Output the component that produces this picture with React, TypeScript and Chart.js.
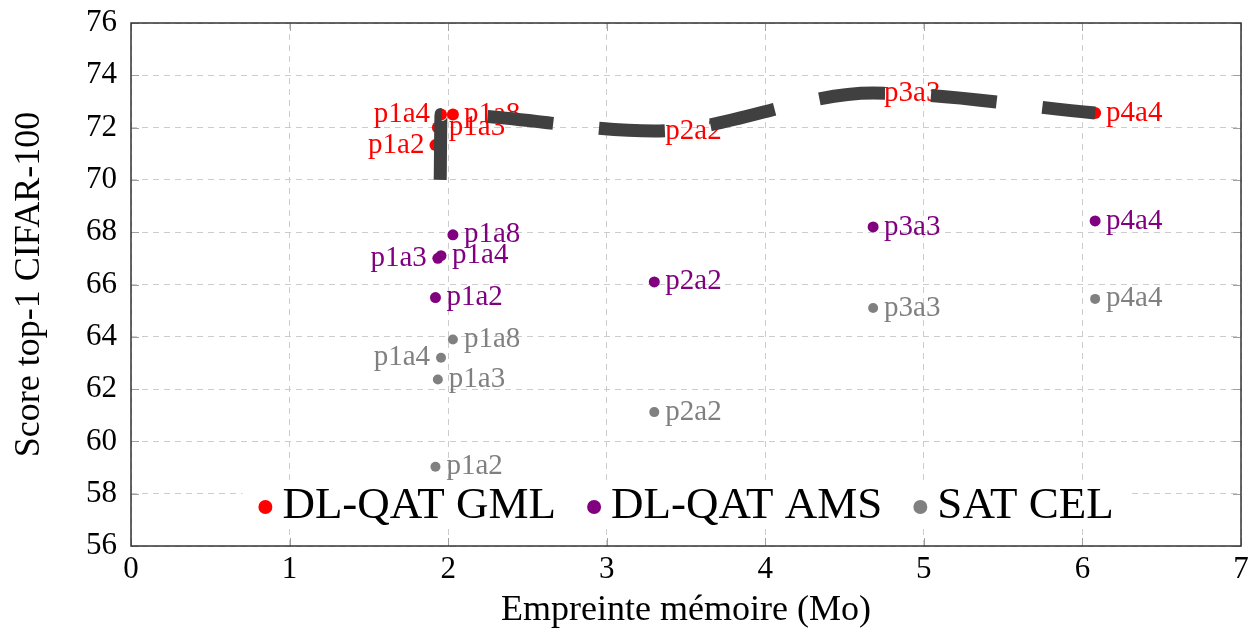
import { useEffect, useRef } from "react";
import { Chart, registerables } from "chart.js";

Chart.register(...registerables);

// Model configurations (bit width of parameters / activations)
const configs = ["p1a2", "p1a3", "p1a4", "p1a8", "p2a2", "p3a3", "p4a4"];
// Memory footprint in Mo for each configuration
const memoryMo = [1.92, 1.935, 1.955, 2.03, 3.3, 4.68, 6.08];
// Top-1 accuracy on CIFAR-100 for each method
const gmlScores = [71.33, 72.0, 72.5, 72.5, 71.87, 73.32, 72.56];
const amsScores = [65.5, 67.0, 67.1, 67.9, 66.1, 68.2, 68.43];
const celScores = [59.03, 62.37, 63.2, 63.9, 61.12, 65.1, 65.45];

// Dashed trend through the DL-QAT GML results
const frontMemory = [1.95, 1.955, 3.3, 4.68, 6.08];
const frontScores = [70.0, 72.5, 71.87, 73.32, 72.56];

// Point names printed on the left of their marker
const gmlLeft = ["p1a2", "p1a4"];
const amsLeft = ["p1a3"];
const celLeft = ["p1a4"];

const seriesNames = ["DL-QAT GML", "DL-QAT AMS", "SAT CEL"];

const xTicks = { min: 0, max: 7, step: 1 };
const yTicks = { min: 56, max: 76, step: 2 };

const FONT = "'Liberation Serif', 'Times New Roman', serif";

const toPoints = (xs: number[], ys: number[]) => xs.map((x, i) => ({ x, y: ys[i] }));

// Full frame around the plot area plus pgfplots-style inner tick marks
const framePlugin = {
  id: "frame",
  beforeDatasetsDraw(chart: any) {
    const { ctx, chartArea: a, scales } = chart;
    ctx.save();
    ctx.strokeStyle = "#a0a0a0";
    ctx.lineWidth = 1;
    const tl = 8;
    ctx.beginPath();
    scales.x.ticks.forEach((t: any) => {
      const px = Math.round(scales.x.getPixelForValue(t.value)) + 0.5;
      ctx.moveTo(px, a.bottom);
      ctx.lineTo(px, a.bottom - tl);
      ctx.moveTo(px, a.top);
      ctx.lineTo(px, a.top + tl);
    });
    scales.y.ticks.forEach((t: any) => {
      const py = Math.round(scales.y.getPixelForValue(t.value)) + 0.5;
      ctx.moveTo(a.left, py);
      ctx.lineTo(a.left + tl, py);
      ctx.moveTo(a.right, py);
      ctx.lineTo(a.right - tl, py);
    });
    ctx.stroke();
    ctx.strokeStyle = "#333333";
    ctx.lineWidth = 1.5;
    ctx.strokeRect(a.left, a.top, a.right - a.left, a.bottom - a.top);
    ctx.restore();
  },
};

// Configuration names next to each marker
const pointLabelPlugin = {
  id: "pointLabels",
  afterDatasetDraw(chart: any, args: any) {
    const ds = chart.data.datasets[args.index];
    if (!ds.pointNames) return;
    const { ctx } = chart;
    ctx.save();
    ctx.font = `29px ${FONT}`;
    ctx.fillStyle = ds.backgroundColor;
    ctx.textBaseline = "middle";
    args.meta.data.forEach((pt: any, i: number) => {
      const name = ds.pointNames[i];
      const left = ds.leftNames.includes(name);
      ctx.textAlign = left ? "right" : "left";
      ctx.fillText(name, pt.x + (left ? -11 : 11), pt.y);
    });
    ctx.restore();
  },
};

// Legend laid out inside the plot area, near the bottom
const inlineLegendPlugin = {
  id: "inlineLegend",
  afterDraw(chart: any) {
    const { ctx, chartArea: a } = chart;
    const entries = chart.data.datasets.filter((d: any) => d.pointNames);
    ctx.save();
    ctx.font = `45px ${FONT}`;
    const r = 7;
    const markerGap = 17;
    const entryGap = 38;
    const widths = entries.map((d: any) => ctx.measureText(d.label).width);
    let total = r;
    widths.forEach((w: number, i: number) => {
      total += markerGap + w + (i < widths.length - 1 ? entryGap : 0);
    });
    const cx = (a.left + a.right) / 2;
    const cy = a.bottom - 40;
    let x = cx - total / 2;
    ctx.fillStyle = "#ffffff";
    ctx.fillRect(x - 16, cy - 23, total + 32, 46);
    x += r;
    ctx.textBaseline = "middle";
    ctx.textAlign = "left";
    entries.forEach((d: any, i: number) => {
      ctx.fillStyle = d.backgroundColor;
      ctx.beginPath();
      ctx.arc(x, cy + 1, r, 0, Math.PI * 2);
      ctx.fill();
      ctx.fillStyle = "#000000";
      ctx.fillText(d.label, x + markerGap, cy);
      x += markerGap + widths[i] + entryGap;
    });
    ctx.restore();
  },
};

export default function App() {
  const canvasRef = useRef<HTMLCanvasElement | null>(null);

  useEffect(() => {
    const canvas = canvasRef.current;
    if (!canvas) return;

    const axisFont = { family: FONT, size: 31 };
    const titleFont = { family: FONT, size: 36 };

    const chart = new Chart(canvas, {
      type: "scatter",
      data: {
        datasets: [
          {
            type: "line",
            label: "front",
            data: toPoints(frontMemory, frontScores),
            borderColor: "#404040",
            borderWidth: 13,
            borderDash: [66, 46],
            borderCapStyle: "butt",
            cubicInterpolationMode: "monotone",
            tension: 0.4,
            pointRadius: 0,
            fill: false,
            order: 0,
          },
          {
            label: seriesNames[0],
            data: toPoints(memoryMo, gmlScores),
            backgroundColor: "#ff0000",
            borderWidth: 0,
            pointRadius: 6,
            order: 1,
            pointNames: configs,
            leftNames: gmlLeft,
          },
          {
            label: seriesNames[1],
            data: toPoints(memoryMo, amsScores),
            backgroundColor: "#800080",
            borderWidth: 0,
            pointRadius: 5.5,
            order: 2,
            pointNames: configs,
            leftNames: amsLeft,
          },
          {
            label: seriesNames[2],
            data: toPoints(memoryMo, celScores),
            backgroundColor: "#808080",
            borderWidth: 0,
            pointRadius: 5,
            order: 3,
            pointNames: configs,
            leftNames: celLeft,
          },
        ] as any,
      },
      options: {
        animation: false,
        responsive: false,
        devicePixelRatio: 1,
        layout: { autoPadding: false, padding: { left: 0, right: 14, top: 23, bottom: 0 } },
        plugins: {
          legend: { display: false },
          tooltip: { enabled: false },
        },
        scales: {
          x: {
            type: "linear",
            min: xTicks.min,
            max: xTicks.max,
            ticks: { stepSize: xTicks.step, font: axisFont, color: "#000000", padding: 5 },
            grid: { color: "#cccccc", lineWidth: 1, drawTicks: false },
            border: { display: false, dash: [6, 5] },
            title: {
              display: true,
              text: "Empreinte mémoire (Mo)",
              font: titleFont,
              color: "#000000",
              padding: { top: 0, bottom: 2 },
            },
            afterFit: (s: any) => {
              s.height = 88;
              s.paddingLeft = 0;
              s.paddingRight = 0;
            },
          },
          y: {
            type: "linear",
            min: yTicks.min,
            max: yTicks.max,
            ticks: { stepSize: yTicks.step, font: axisFont, color: "#000000", padding: 14 },
            grid: { color: "#cccccc", lineWidth: 1, drawTicks: false },
            border: { display: false, dash: [6, 5] },
            title: {
              display: true,
              text: "Score top-1 CIFAR-100",
              font: titleFont,
              color: "#000000",
              padding: { top: 8, bottom: 0 },
            },
            afterFit: (s: any) => {
              s.width = 131;
              s.paddingTop = 0;
              s.paddingBottom = 0;
            },
          },
        },
      } as any,
      plugins: [framePlugin, pointLabelPlugin, inlineLegendPlugin],
    });

    return () => chart.destroy();
  }, []);

  return (
    <div style={{ position: "fixed", left: 0, top: 0, width: 1255, height: 634, background: "#ffffff" }}>
      <canvas ref={canvasRef} width={1255} height={634} style={{ display: "block" }} />
    </div>
  );
}
